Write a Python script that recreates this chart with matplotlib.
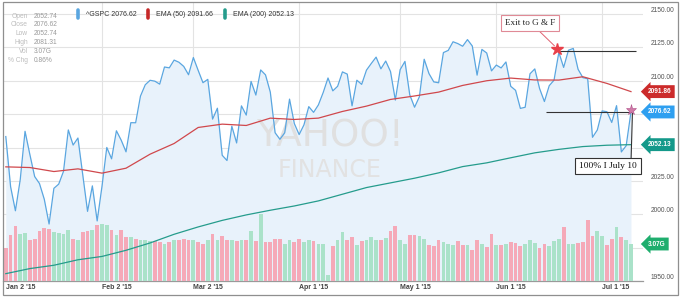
import numpy as np
import pandas as pd
import matplotlib
matplotlib.use("Agg")
import matplotlib.pyplot as plt
import matplotlib.transforms as mtransforms
from matplotlib.lines import Line2D
from matplotlib.patches import Rectangle

plt.rcParams['font.family'] = ['Liberation Sans', 'DejaVu Sans']

# ---------------- data ----------------
holidays = ["2015-01-19", "2015-02-16", "2015-04-03", "2015-05-25", "2015-07-03"]
prev_close = 2058.90
close = [2058.20, 2020.58, 2002.61, 2025.90, 2062.14, 2044.81, 2028.26, 2023.03, 2011.27, 1992.67,
         2019.42, 2022.55, 2032.12, 2063.15, 2051.82, 2057.09, 2029.55, 2002.16, 2021.25, 1994.99,
         2020.85, 2050.03, 2041.51, 2062.52, 2055.47, 2046.74, 2068.59, 2068.53, 2088.48, 2096.99,
         2100.34, 2099.68, 2097.45, 2110.30, 2109.66, 2115.48, 2113.86, 2110.74, 2104.50,
         2117.39, 2107.78, 2098.53, 2101.04, 2071.26, 2079.43, 2044.16, 2040.24, 2065.95, 2053.40,
         2081.19, 2074.28, 2099.50, 2089.27, 2108.10, 2104.42, 2091.50, 2061.05, 2056.15, 2061.02,
         2086.24, 2067.89,
         2059.69, 2066.96, 2080.62, 2076.33, 2081.90, 2091.18, 2102.06, 2092.43, 2095.84, 2106.63,
         2104.99, 2081.18, 2100.40, 2097.29, 2107.96, 2112.93, 2117.69, 2108.92, 2114.76, 2106.85,
         2085.51,
         2108.29, 2114.49, 2089.46, 2080.15, 2088.00, 2116.10, 2105.33, 2099.12, 2098.48, 2121.10,
         2122.73, 2129.20, 2127.83, 2125.85, 2130.82, 2126.06, 2104.20, 2123.48, 2120.79, 2107.39,
         2111.73, 2109.60, 2114.07, 2095.84, 2092.83, 2079.28, 2080.15, 2105.20, 2108.86, 2094.11,
         2084.43, 2096.29, 2100.44, 2121.24, 2109.99, 2122.85, 2124.20, 2108.58, 2102.31, 2101.49,
         2057.64, 2063.11,
         2077.42, 2076.78, 2068.76, 2081.34, 2046.68, 2051.31, 2076.62]

volume_g = [2.77, 3.85, 4.54, 3.93, 3.99, 3.38, 3.46, 4.15, 4.43, 4.32,
            4.07, 3.98, 3.87, 4.20, 3.52, 3.44, 4.07, 4.12, 4.20, 4.62,
            4.70, 4.65, 4.20, 3.80, 4.25, 3.65, 3.65, 3.50, 3.38, 3.38,
            3.30, 3.30, 3.24, 3.10, 3.24, 3.38, 3.44, 3.52, 3.38, 3.44,
            3.24, 3.10, 3.38, 3.87, 3.44, 3.70, 3.38, 3.44, 3.30, 3.38,
            3.38, 4.15, 3.30, 5.60, 3.24, 3.24, 3.52, 3.52, 3.10, 3.38,
            3.24, 3.52, 3.24, 3.38, 3.30, 3.10, 3.10, 0.47, 2.88, 3.38,
            4.07, 3.44, 3.66, 3.02, 3.30, 3.38, 3.66, 3.44, 3.44, 3.60,
            4.15, 4.54, 3.38, 3.10, 3.85, 3.80, 3.71, 3.52, 2.96, 2.90,
            3.38, 3.24, 3.10, 2.96, 3.30, 3.02, 2.96, 2.60, 3.38, 3.10,
            2.82, 3.93, 3.02, 3.02, 3.10, 3.24, 3.19, 2.88, 3.10, 3.44,
            3.15, 2.74, 3.05, 2.88, 3.30, 3.52, 4.48, 3.05, 3.05, 3.15,
            3.24, 5.10, 3.71, 4.12, 3.71, 2.96, 3.46, 4.48, 3.66, 3.44,
            3.07]

ema_step = 5
ema50 = [2035.5, 2035.0, 2032.0, 2034.0, 2030.8, 2034.5, 2045.0, 2053.0, 2065.0, 2067.5,
         2066.5, 2072.0, 2071.0, 2072.0, 2077.0, 2081.0, 2086.0, 2088.6, 2091.5, 2096.5,
         2100.0, 2102.0, 2100.6, 2100.5, 2103.0, 2098.0, 2091.86]
ema200 = [1955.5, 1959.3, 1961.8, 1965.9, 1968.4, 1973.0, 1978.5, 1985.0, 1990.5, 1995.4,
          1999.5, 2003.0, 2006.2, 2010.0, 2015.0, 2020.0, 2023.5, 2027.0, 2031.0, 2035.7,
          2038.5, 2042.3, 2046.0, 2048.6, 2050.7, 2051.7, 2052.13]

tick_dates = ["2015-01-02", "2015-02-02", "2015-03-02", "2015-04-01", "2015-05-01", "2015-06-01", "2015-07-01"]
tick_labels = ["Jan 2 '15", "Feb 2 '15", "Mar 2 '15", "Apr 1 '15", "May 1 '15", "Jun 1 '15", "Jul 1 '15"]
price_ticks = [1950, 1975, 2000, 2025, 2050, 2075, 2100, 2125, 2150]
covered_ticks = [1975, 2050, 2075]   # labels hidden behind the value tags

info_labels = ["Open", "Close", "Low", "High", "Vol", "% Chg"]
info_values = ["2052.74", "2076.62", "2052.74", "2081.31", "3.07G", "0.86%"]
legend_texts = ["^GSPC 2076.62", "EMA (50) 2091.66", "EMA (200) 2052.13"]
tag_texts = ["2091.86", "2076.62", "2052.13", "3.07G"]
exit_price = 2122.3
exit_text = "Exit to G & F"
july_text = "100% I July 10"

# ---------------- setup ----------------
dates = pd.bdate_range("2015-01-02", "2015-07-10")
dates = dates[~dates.isin(pd.to_datetime(holidays))]
x = np.arange(len(dates))
close = np.array(close)
vol = np.array(volume_g)
ema_x = x[::ema_step]
tick_pos = [int(np.where(dates == pd.Timestamp(d))[0][0]) for d in tick_dates]

BLUE = '#5aa6e0'
RED = '#d0484c'
TEAL = '#259c8c'
PINK_BAR = '#f5a9b8'
GREEN_BAR = '#aae2c9'

W, H = 686, 300
fig = plt.figure(figsize=(W / 100, H / 100), dpi=100)
fig.patch.set_facecolor('white')

def fx(px):
    return px / W

def fy(py):
    return 1 - py / H

ax_left, ax_right, ax_top_px, ax_bot_px = 3, 643, 3, 281
pos = [fx(ax_left), fy(ax_bot_px), (ax_right - ax_left) / W, (ax_bot_px - ax_top_px) / H]

ax = fig.add_axes(pos)
ax_vol = ax.twinx()
ax_ln = ax.twinx()

xlim = (-0.582, 132.5)
ylim = (1950, 1950 + 278 / 1.335)
for a in (ax, ax_vol, ax_ln):
    a.set_xlim(*xlim)
ax.set_ylim(*ylim)
ax_ln.set_ylim(*ylim)
ax_vol.set_ylim(0, 278 / 12.05)

# base: grid, fill, watermark
ax.set_yticks(price_ticks)
ax.set_yticklabels(["" if p in covered_ticks else f"{p:.2f}" for p in price_ticks])
ax.set_xticks(tick_pos)
ax.set_xticklabels(tick_labels)
ax.grid(True, color='#e3e3e3', lw=0.8)
ax.set_axisbelow(True)
ax.get_xgridlines()[0].set_visible(False)
ax.tick_params(axis='y', left=False, right=False, labelleft=False, labelright=True,
               pad=2, labelsize=4.8, labelcolor='#555555')
ax.tick_params(axis='x', length=0, pad=2.5, labelsize=5, labelcolor='#444444')
for t in ax.get_yticklabels():
    t.set_va('bottom')
for t in ax.get_xticklabels():
    t.set_ha('left')
    t.set_fontweight('bold')
for s in ['left', 'right', 'top']:
    ax.spines[s].set_visible(False)
ax.spines['bottom'].set_color('#9a9a9a')
ax.spines['bottom'].set_linewidth(0.9)

ax.fill_between(x, close, ylim[0], color='#e8f2fb', lw=0, zorder=1)
ax.text(0.511, 0.52, "YAHOO!", transform=ax.transAxes, ha='center', va='center',
        fontsize=27, color='#e0e0e0', family='DejaVu Sans', zorder=1.5)
ax.text(0.511, 0.40, "FINANCE", transform=ax.transAxes, ha='center', va='center',
        fontsize=17, color='#e2e2e2', family='DejaVu Sans', zorder=1.5)

# volume bars
prevs = np.concatenate([[prev_close], close[:-1]])
bar_colors = [GREEN_BAR if c >= p else PINK_BAR for c, p in zip(close, prevs)]
ax_vol.bar(x, vol, width=0.78, color=bar_colors, lw=0)

# lines
ax_ln.plot(x, close, color=BLUE, lw=0.9)
ax_ln.plot(ema_x, ema50, color=RED, lw=0.9)
ax_ln.plot(ema_x, ema200, color=TEAL, lw=0.9)

for a in (ax_vol, ax_ln):
    a.set_yticks([])
    a.tick_params(axis='both', length=0, labelbottom=False, labelright=False)
    for s in a.spines.values():
        s.set_visible(False)

# annotations
last = len(x) - 1
star_x = 114.7
ax_ln.hlines(exit_price, star_x, 131.0, color='#333333', lw=0.8, zorder=5)
ax_ln.hlines(close[-1], 112.3, last, color='#333333', lw=0.8, zorder=5)
ax_ln.plot([star_x], [2124.0], marker='*', ms=9, color='#e8404a', mec='#e8404a', zorder=7)
ax_ln.plot([last], [2078.0], marker='*', ms=8, color='#d07aa8', mec='#b05088', mew=0.4, zorder=7)

ax_ln.annotate(exit_text, xy=(star_x, 2124.0), xytext=(109.0, 2143.3),
               ha='center', va='center', fontsize=6.6, family='Liberation Serif', color='#222222',
               bbox=dict(boxstyle='square,pad=0.45', fc='white', ec='#e08a96', lw=0.8),
               arrowprops=dict(arrowstyle='-', color='#e06070', lw=0.7,
                               relpos=(0.6, 0.0), shrinkA=0, shrinkB=3),
               zorder=8)
ax_ln.annotate(july_text, xy=(last + 0.3, 2075.5), xytext=(125.2, 2036.1),
               ha='center', va='center', fontsize=6.8, family='Liberation Serif', color='#111111',
               bbox=dict(boxstyle='square,pad=0.4', fc='white', ec='#333333', lw=0.8),
               arrowprops=dict(arrowstyle='-', color='#333333', lw=0.8,
                               relpos=(0.9, 1.0), shrinkA=0, shrinkB=0),
               zorder=8, annotation_clip=False)

# right tags
def tag(a, yval, text, color):
    tr = mtransforms.blended_transform_factory(a.transAxes, a.transData)
    a.text(1.008, yval, text, transform=tr, ha='left', va='center', fontsize=4.7,
           fontweight='bold', color='white', clip_on=False, zorder=20,
           bbox=dict(boxstyle='larrow,pad=0.45', fc=color, ec='none'))

tag(ax_ln, ema50[-1], tag_texts[0], '#cc2b2b')
tag(ax_ln, close[-1], tag_texts[1], '#2e9ff0')
tag(ax_ln, ema200[-1], tag_texts[2], '#14998a')
tag(ax_vol, vol[-1], tag_texts[3], '#1fae6e')

# info box
for k, (lab, val) in enumerate(zip(info_labels, info_values)):
    yy = fy(16 + 8.8 * k)
    fig.text(fx(28), yy, lab, ha='right', va='center', fontsize=4.8, color='#bdbdbd')
    fig.text(fx(34), yy, val, ha='left', va='center', fontsize=4.8, color='#9a9a9a')

# legend
for txt, col, px in zip(legend_texts, [BLUE, '#c62828', TEAL], [78, 148, 225]):
    fig.add_artist(Line2D([fx(px), fx(px)], [fy(10), fy(18)], color=col, lw=2.6,
                          solid_capstyle='round', transform=fig.transFigure))
    fig.text(fx(px + 8), fy(14), txt, ha='left', va='center', fontsize=5, color='#333333')

# outer frame
fig.add_artist(Rectangle((fx(2.5), fy(294.5)), fx(678) - fx(2.5), fy(1.5) - fy(294.5),
                         transform=fig.transFigure, fill=False, ec='#8f8f8f', lw=0.9))

fig.savefig("out.png", dpi=100)
